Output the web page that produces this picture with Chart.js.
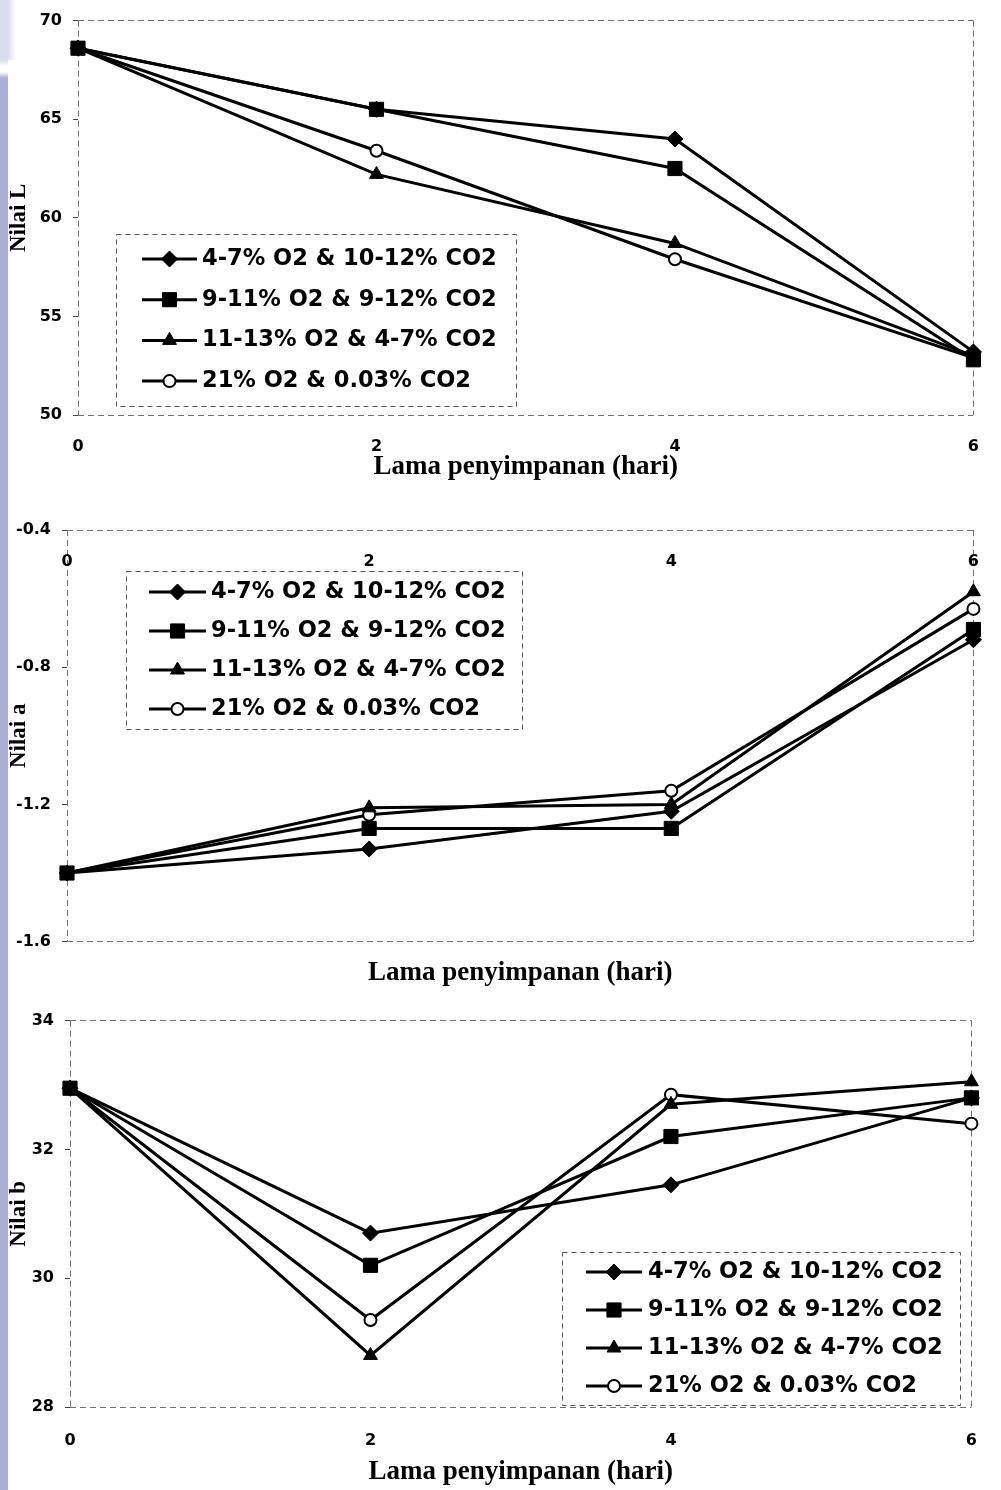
<!DOCTYPE html>
<html>
<head>
<meta charset="utf-8">
<title>Nilai L, a dan b selama penyimpanan</title>
<script src="https://cdn.jsdelivr.net/npm/chart.js"></script>
<style>
  html, body { margin: 0; padding: 0; background: #fff; }
  #page { position: relative; width: 1001px; height: 1490px; overflow: hidden; }
  /* lavender band on the left edge of the slide */
  #strip { position: absolute; left: 0; top: 0; width: 8px; height: 1490px;
    background: linear-gradient(to bottom, #dcdcef 0, #dcdcef 60px, #fff 66px, #fff 72px, #a9afd6 78px, #a9afd6 100%); }
  #corner { position: absolute; left: 0; top: 0; width: 16px; height: 60px;
    background: linear-gradient(to right, #dcdcef 0, #dcdcef 8px, rgba(255,255,255,0) 16px); }
  .box { position: absolute; left: 0; width: 1001px; }
</style>
</head>
<body>
<div id="page">
  <div id="strip"></div>
  <div id="corner"></div>
  <div class="box" style="top:0;height:495px"><canvas id="chartL"></canvas></div>
  <div class="box" style="top:495px;height:505px"><canvas id="chartA"></canvas></div>
  <div class="box" style="top:1000px;height:490px"><canvas id="chartB"></canvas></div>
</div>
<script>
// Storage time (days) on the x axis
var days = ['0', '2', '4', '6'];

// Atmosphere treatments, same order in all three charts
var treatments = ['4-7% O2 & 10-12% CO2', '9-11% O2 & 9-12% CO2', '11-13% O2 & 4-7% CO2', '21% O2 & 0.03% CO2'];

// Nilai L, one row per treatment
var nilaiL = [
    [68.6, 65.5, 64.0, 53.2],
    [68.6, 65.5, 62.5, 52.8],
    [68.6, 62.2, 58.7, 53.0],
    [68.6, 63.4, 57.9, 52.9]
];

// Nilai a
var nilaiA = [
    [-1.40, -1.33, -1.22, -0.72],
    [-1.40, -1.27, -1.27, -0.69],
    [-1.40, -1.21, -1.20, -0.58],
    [-1.40, -1.23, -1.16, -0.63]
];

// Nilai b
var nilaiB = [
    [32.95, 30.7, 31.45, 32.8],
    [32.95, 30.2, 32.2, 32.8],
    [32.95, 28.8, 32.7, 33.05],
    [32.95, 29.35, 32.85, 32.4]
];

// Value axis tick labels
var ticksL = [50, 55, 60, 65, 70];
var ticksA = [-1.6, -1.2, -0.8, -0.4];
var ticksB = [28, 30, 32, 34];

// Marker per treatment: diamond, square, triangle, open circle
var markers = [
    {style: 'rectRot', radius: 8, fill: '#000', border: 1},
    {style: 'rect', radius: 10, fill: '#000', border: 1},
    {style: 'triangle', radius: 8, fill: '#000', border: 1},
    {style: 'circle', radius: 6, fill: '#fff', border: 2}
];

var tickFont = {family: '"DejaVu Sans", sans-serif', weight: 'bold', size: 16};
var serifBig = {family: '"Liberation Serif", "Times New Roman", serif', weight: 'bold', size: 27};
var serifY = {family: '"Liberation Serif", "Times New Roman", serif', weight: 'bold', size: 23};
var xTitle = 'Lama penyimpanan (hari)';

// Only the outer frame of the plot gets a (dashed) line
function edgeColor(c) {
    var n = c.scale.ticks.length;
    return (c.index === 0 || c.index === n - 1) ? '#707070' : 'rgba(0,0,0,0)';
}

// Legend drawn as a framed box inside the plot, like the Excel one
var boxLegend = {
    id: 'boxLegend',
    afterDraw: function(chart, args, opts) {
        var ctx = chart.ctx;
        ctx.save();
        ctx.fillStyle = '#fff';
        ctx.fillRect(opts.left, opts.top, opts.right - opts.left, opts.bottom - opts.top);
        ctx.setLineDash([5, 4]);
        ctx.strokeStyle = '#555';
        ctx.lineWidth = 1;
        ctx.strokeRect(opts.left + 0.5, opts.top + 0.5, opts.right - opts.left, opts.bottom - opts.top);
        ctx.setLineDash([]);

        chart.data.datasets.forEach(function(ds, i) {
            var y = opts.firstRow + i * opts.rowGap;
            ctx.strokeStyle = '#000';
            ctx.lineWidth = 3;
            ctx.beginPath();
            ctx.moveTo(opts.lineFrom, y);
            ctx.lineTo(opts.lineTo, y);
            ctx.stroke();

            ctx.fillStyle = ds.pointBackgroundColor;
            ctx.lineWidth = ds.pointBorderWidth;
            Chart.helpers.drawPoint(ctx, {
                pointStyle: ds.pointStyle,
                radius: ds.pointRadius,
                rotation: 0,
                borderWidth: ds.pointBorderWidth
            }, (opts.lineFrom + opts.lineTo) / 2, y);

            ctx.fillStyle = '#000';
            ctx.font = 'bold 22.5px "DejaVu Sans", sans-serif';
            ctx.textBaseline = 'middle';
            ctx.textAlign = 'left';
            ctx.fillText(ds.label, opts.textX, y);
        });
        ctx.restore();
    }
};
Chart.register(boxLegend);

function makeChart(id, values, ticks, yTitle, lay) {
    var ctx = document.getElementById(id).getContext('2d');
    return new Chart(ctx, {
        type: 'line',
        data: {
            labels: days,
            datasets: values.map(function(v, i) {
                return {
                    label: treatments[i],
                    data: v,
                    borderColor: '#000',
                    borderWidth: 3,
                    pointStyle: markers[i].style,
                    pointRadius: markers[i].radius,
                    pointBackgroundColor: markers[i].fill,
                    pointBorderColor: '#000',
                    pointBorderWidth: markers[i].border,
                    tension: 0,
                    clip: false
                };
            })
        },
        options: {
            responsive: true,
            maintainAspectRatio: false,
            animation: false,
            layout: {padding: lay.padding},
            plugins: {
                legend: {display: false},
                tooltip: {enabled: false},
                title: {
                    display: !!lay.bottomTitle,
                    position: 'bottom',
                    fullSize: false,
                    text: xTitle,
                    color: '#000',
                    font: serifBig,
                    padding: lay.bottomTitle || 0
                },
                boxLegend: lay.legend
            },
            scales: {
                x: {
                    position: lay.xPosition || 'bottom',
                    afterFit: function(s) { if (lay.xHeight) s.height = lay.xHeight; },
                    grid: {color: edgeColor, drawTicks: false},
                    border: {display: false, dash: [6, 4]},
                    ticks: {padding: lay.xPad, font: tickFont, color: '#000', maxRotation: 0, autoSkip: false},
                    title: {
                        display: !lay.bottomTitle,
                        text: xTitle,
                        color: '#000',
                        font: serifBig,
                        padding: {top: 0, bottom: lay.xTitlePad || 0}
                    }
                },
                y: {
                    min: ticks[0],
                    max: ticks[ticks.length - 1],
                    afterFit: function(s) { s.width = lay.yWidth; },
                    grid: {color: edgeColor, tickColor: '#444', tickLength: 5},
                    border: {display: false, dash: [6, 4]},
                    ticks: {stepSize: ticks[1] - ticks[0], padding: 11, font: tickFont, color: '#000'},
                    title: {display: true, text: yTitle, color: '#000', font: serifY, padding: {top: 5, bottom: 0}}
                }
            }
        }
    });
}

makeChart('chartL', nilaiL, ticksL, 'Nilai L', {
    padding: {top: 18, right: 9, left: 0, bottom: 0},
    yWidth: 78, xHeight: 80, xPad: 22, xTitlePad: 12,
    legend: {left: 116, top: 234, right: 516, bottom: 406, firstRow: 259, rowGap: 40.7, lineFrom: 142, lineTo: 197, textX: 202}
});

makeChart('chartA', nilaiA, ticksA, 'Nilai a', {
    padding: {top: 35, right: 10, left: 0, bottom: 0},
    yWidth: 67, xPosition: {y: -0.4}, xPad: 22,
    bottomTitle: {top: 15, bottom: 11},
    legend: {left: 126, top: 76, right: 522, bottom: 234, firstRow: 97, rowGap: 39, lineFrom: 149, lineTo: 206, textX: 211}
});

makeChart('chartB', nilaiB, ticksB, 'Nilai b', {
    padding: {top: 20, right: 9, left: 0, bottom: 0},
    yWidth: 70, xHeight: 83, xPad: 24, xTitlePad: 2,
    legend: {left: 562, top: 252, right: 960, bottom: 405, firstRow: 272, rowGap: 38, lineFrom: 586, lineTo: 642, textX: 648}
});
</script>
</body>
</html>
